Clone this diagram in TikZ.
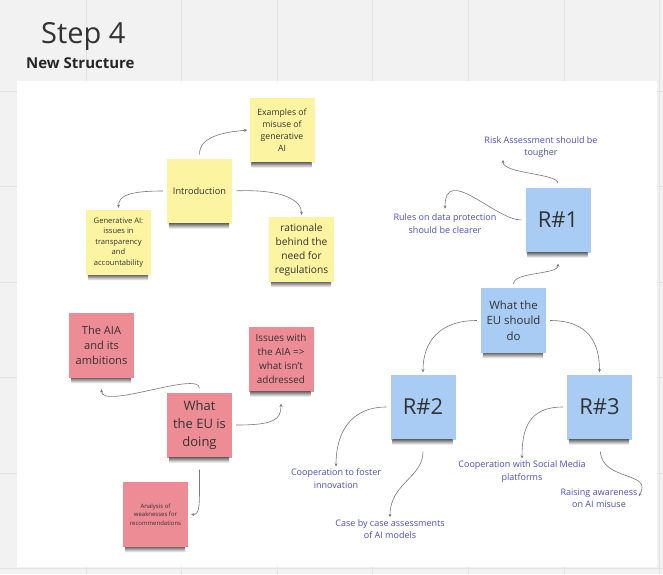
\documentclass[tikz,border=0pt]{standalone}
\usepackage{fontspec}
\setmainfont{Open Sans}
\usetikzlibrary{arrows.meta}

\definecolor{board}{RGB}{242,242,242}
\definecolor{gridline}{RGB}{226,226,226}
\definecolor{noteyellow}{RGB}{252,244,160}
\definecolor{notepink}{RGB}{238,140,150}
\definecolor{noteblue}{RGB}{168,204,243}
\definecolor{inkblue}{RGB}{78,78,196}
\definecolor{linkgray}{RGB}{120,120,120}

\begin{document}
\begin{tikzpicture}[x=1pt,y=-1pt,>={Stealth[length=3.2pt,width=3pt]},
        note/.style={minimum width=65pt,minimum height=65pt,inner sep=1pt,align=center,text=black!80},
        noteshadow/.style={top color=black!55,bottom color=white},
        tag/.style={inner sep=0pt,align=center,text=inkblue,font=\fontsize{9}{12.5}\selectfont},
        link/.style={->,draw=linkgray,line width=0.6pt,shorten <=4pt,shorten >=2pt}]
        % board
        \fill[board] (0,0) rectangle (663,574);
        \useasboundingbox (0,0) rectangle (663,574);
        \foreach \k in {0,...,6}
            \draw[gridline,line width=0.8pt] ({86+95.6*\k},0) -- ({86+95.6*\k},574);
        \foreach \k in {0,...,5}
            \draw[gridline,line width=0.8pt] (0,{91+95.5*\k}) -- (663,{91+95.5*\k});
        \fill[white] (17,81) rectangle (657,567);
        \node[anchor=base west,inner sep=0pt,text=black!80,font=\fontsize{29}{34}\selectfont] (title) at (41,43) {Step 4};
        \node[anchor=base west,inner sep=0pt,text=black!85,font=\fontsize{15}{18}\selectfont\bfseries] (subtitle) at (26,68) {New Structure};

        % introduction
        \node[note,fill=noteyellow,font=\fontsize{9.2}{12.5}\selectfont] (intro) at (199.5,191) {Introduction};
        \node[note,fill=noteyellow,font=\fontsize{8.7}{12}\selectfont] (misuse) at (282,130) {Examples of\\misuse of\\generative\\AI};
        \node[note,fill=noteyellow,font=\fontsize{7.6}{10.6}\selectfont] (issues) at (118.5,242.5) {Generative AI:\\issues in\\transparency\\and\\accountability};
        \node[note,fill=noteyellow,font=\fontsize{10.2}{14}\selectfont] (rationale) at (301.5,249.5) {rationale\\behind the\\need for\\regulations};

        % what the EU is doing
        \node[note,fill=notepink,font=\fontsize{13}{18}\selectfont] (doing) at (199.5,425) {What\\the EU is\\doing};
        \node[note,fill=notepink,font=\fontsize{11.1}{15}\selectfont] (aia) at (101.5,345.5) {The AIA\\and its\\ambitions};
        \node[note,fill=notepink,font=\fontsize{9.9}{14}\selectfont] (gaps) at (281,359) {Issues with\\the AIA =>\\what isn't\\addressed};
        \node[note,fill=notepink,font=\fontsize{6}{8.6}\selectfont] (weak) at (155.5,514.5) {Analysis of\\weaknesses for\\recommendations};

        % what the EU should do
        \node[note,fill=noteblue,font=\fontsize{11.4}{15.5}\selectfont] (should) at (513.5,320.5) {What the\\EU should\\do};
        \node[note,fill=noteblue,font=\fontsize{22}{26}\selectfont] (r1) at (558,220) {R\#1};
        \node[note,fill=noteblue,font=\fontsize{22}{26}\selectfont] (r2) at (423,407) {R\#2};
        \node[note,fill=noteblue,font=\fontsize{22}{26}\selectfont] (r3) at (599.5,407) {R\#3};

        % shadows under the notes
        \foreach \n in {intro,misuse,issues,rationale,doing,aia,gaps,weak,should,r1,r2,r3}
            \shade[noteshadow] ([xshift=2pt]\n.south west) rectangle ([xshift=-3pt,yshift=-5pt]\n.south east);

        \node[tag] (tough) at (541,147) {Risk Assessment should be\\tougher};
        \node[tag] (privacy) at (445,223.5) {Rules on data protection\\should be clearer};
        \node[tag] (foster) at (336,478.5) {Cooperation to foster\\innovation};
        \node[tag] (casewise) at (390,529) {Case by case assessments\\of AI models};
        \node[tag] (social) at (522,471.5) {Cooperation with Social Media\\platforms};
        \node[tag] (aware) at (599,498) {Raising awareness\\on AI misuse};

        % connectors
        \draw[link] (intro.north) .. controls +(0,-22) and +(-25,2) .. (misuse.west);
        \draw[link] (intro.west) .. controls +(-38,0) and +(0,-14) .. (issues.north);
        \draw[link] (intro.east) .. controls +(52,-2) and +(0,-16) .. (rationale.north);

        \draw[link,shorten >=11pt] (doing.north) .. controls +(0,-22) and +(0,32) .. (aia.south);
        \draw[link,shorten >=12pt] (doing.east) .. controls +(42,0) and +(0,28) .. (gaps.south);
        \draw[link,shorten <=12pt,shorten >=3pt] (doing.south) .. controls +(0,48) and +(12,0) .. (weak.east);

        \draw[link,shorten >=11pt] (should.north) .. controls +(0,-16) and +(0,22) .. (r1.south);
        \draw[link] (r1.north) .. controls +(0,-14) and +(0,16) .. ([xshift=-38pt]tough.south);
        \draw[link,shorten >=5pt] (r1.west) .. controls +(-30,0) and +(0,-50) .. (privacy.north);
        \draw[link] (should.west) .. controls +(-42,0) and +(0,-32) .. (r2.north);
        \draw[link] (should.east) .. controls +(42,0) and +(0,-32) .. (r3.north);

        \draw[link] (r2.west) .. controls +(-38,0) and +(0,-38) .. (foster.north);
        \draw[link,shorten <=12pt] (r2.south) .. controls +(0,38) and +(0,-36) .. (casewise.north);
        \draw[link] (r3.west) .. controls +(-38,0) and +(0,-32) .. (social.north);
        \draw[link,shorten <=12pt] (r3.south) .. controls +(3,42) and +(16,-27) .. (aware.east);
\end{tikzpicture}
\end{document}
